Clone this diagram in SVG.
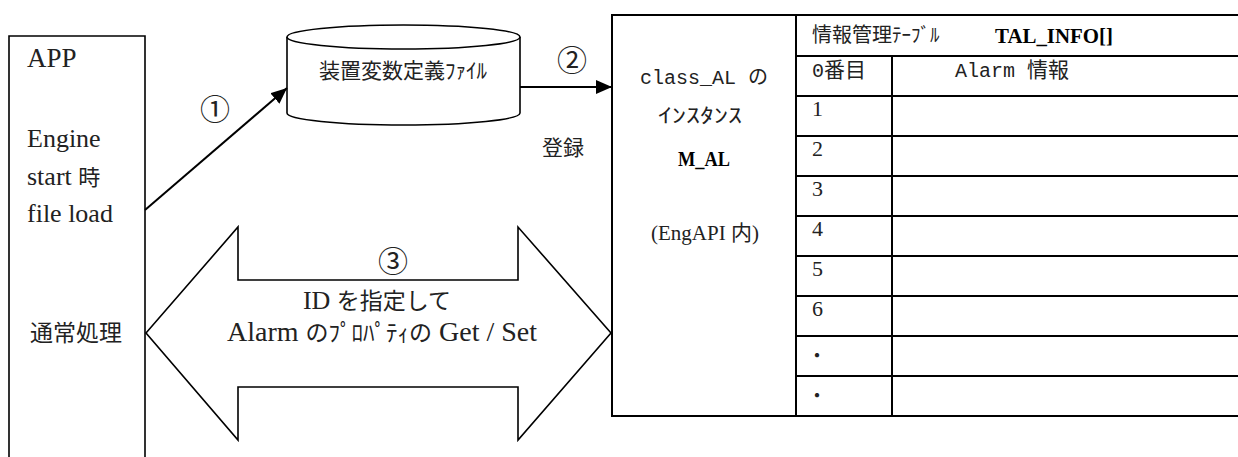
<svg xmlns="http://www.w3.org/2000/svg" width="1238" height="457" viewBox="0 0 1238 457">
<style>
.ln{fill:none;stroke:#000;stroke-width:2}
.thin{fill:#fff;stroke:#000;stroke-width:1.6}
.serif{font-family:"Liberation Serif","Noto Sans CJK JP",serif;fill:#222}
.mono{font-family:"Liberation Mono","Noto Sans CJK JP",monospace;fill:#222}
.cjk{font-family:"Noto Sans CJK JP",sans-serif;fill:#222}
.bold{font-family:"Liberation Serif",serif;font-weight:bold;fill:#000}
</style>
<defs>
<marker id="ah" markerUnits="userSpaceOnUse" markerWidth="17" markerHeight="14" refX="16" refY="7" orient="auto">
<path d="M0,0 L16,7 L0,14 z" fill="#000"/>
</marker>
</defs>
<rect width="1238" height="457" fill="#fff"/>

<g id="app">
<path class="thin" d="M9,460 V36 H145 V460"/>
<text class="serif" x="27" y="67" font-size="27">APP</text>
<text class="serif" x="27" y="147" font-size="26">Engine</text>
<text class="serif" x="27" y="185" font-size="26">start <tspan class="cjk" font-size="22">時</tspan></text>
<text class="serif" x="27" y="222" font-size="26">file load</text>
<text class="cjk" x="30" y="341" font-size="23">通常処理</text>
</g>

<g id="file">
<path class="thin" d="M287,37 V113 A116.5,12 0 0 0 520,113 V37"/>
<ellipse class="thin" cx="403.5" cy="37" rx="116.5" ry="12"/>
<text class="cjk" x="403" y="78" font-size="21" text-anchor="middle">装置変数定義ﾌｧｲﾙ</text>
</g>

<g id="m_al">
<rect x="612" y="15" width="184" height="401" fill="#fff" stroke="#000" stroke-width="2"/>
<text class="mono" x="704" y="84" font-size="20" text-anchor="middle">class_AL <tspan class="cjk">の</tspan></text>
<text class="cjk" x="658" y="123" font-size="20" textLength="84" lengthAdjust="spacingAndGlyphs">ｲﾝｽﾀﾝｽ</text>
<text class="bold" x="678" y="166" font-size="22" textLength="52" lengthAdjust="spacingAndGlyphs">M_AL</text>
<text class="serif" x="705" y="240" font-size="21" text-anchor="middle">(EngAPI <tspan class="cjk">内</tspan>)</text>
</g>

<g id="tal_info">
<path class="ln" d="M796,15 H1238 M796,56 H1238 M796,96 H1238 M796,136 H1238 M796,176 H1238 M796,216 H1238 M796,256 H1238 M796,296 H1238 M796,336 H1238 M796,376 H1238 M796,416 H1238 M892,56 V416"/>
<text class="cjk" x="812" y="42" font-size="20">情報管理<tspan font-size="19">ﾃｰﾌﾞﾙ</tspan></text>
<text class="bold" x="995" y="43" font-size="22" textLength="118" lengthAdjust="spacingAndGlyphs">TAL_INFO[]</text>
<text class="mono" x="812" y="77" font-size="20">0<tspan class="cjk" font-size="21">番目</tspan></text>
<text class="mono" x="955" y="77" font-size="20">Alarm <tspan class="cjk" font-size="21">情報</tspan></text>
<text class="serif" x="812" y="116" font-size="22">1</text>
<text class="serif" x="812" y="156" font-size="22">2</text>
<text class="serif" x="812" y="196" font-size="22">3</text>
<text class="serif" x="812" y="236" font-size="22">4</text>
<text class="serif" x="812" y="276" font-size="22">5</text>
<text class="serif" x="812" y="316" font-size="22">6</text>
<text class="cjk" x="817" y="363" font-size="20" text-anchor="middle">・</text>
<text class="cjk" x="817" y="403" font-size="20" text-anchor="middle">・</text>
</g>

<g id="connectors">
<line class="ln" x1="145" y1="210" x2="287" y2="88" marker-end="url(#ah)"/>
<line class="ln" x1="520" y1="87" x2="612" y2="87" marker-end="url(#ah)"/>
<polygon class="thin" points="146,333 238,227 238,280 518,280 518,227 611,333 518,440 518,387 238,387 238,440"/>
<text class="cjk" x="215" y="120" font-size="30" text-anchor="middle">①</text>
<text class="cjk" x="572" y="71" font-size="30" text-anchor="middle">②</text>
<text class="cjk" x="563" y="155" font-size="21" text-anchor="middle">登録</text>
<text class="cjk" x="393" y="272" font-size="30" text-anchor="middle">③</text>
<text class="serif" x="377" y="309" font-size="26" text-anchor="middle">ID <tspan class="cjk" font-size="23">を指定して</tspan></text>
<text class="serif" x="382" y="341" font-size="28" text-anchor="middle">Alarm <tspan class="cjk" font-size="23">のﾌﾟﾛﾊﾟﾃｨの</tspan> Get / Set</text>
</g>
</svg>
